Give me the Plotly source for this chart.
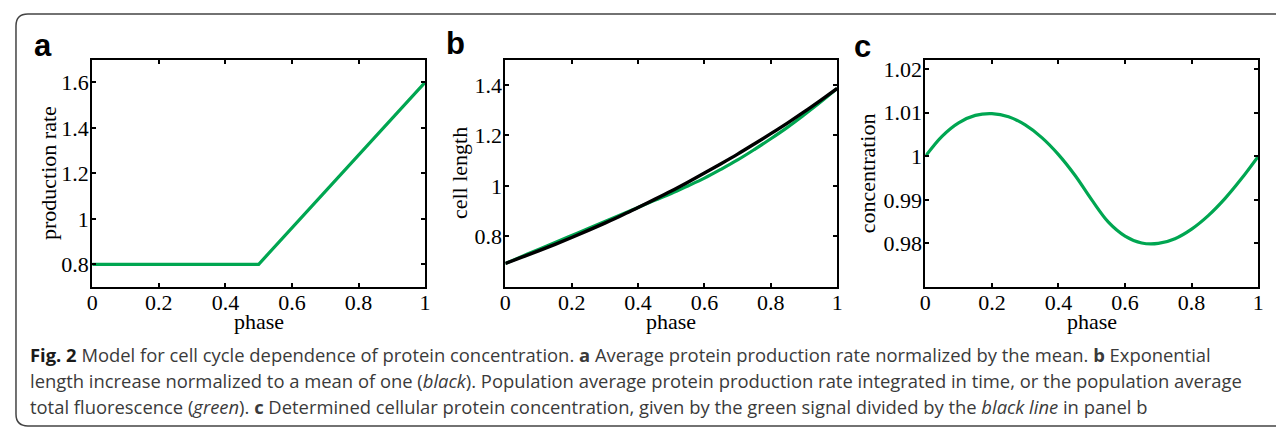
import plotly.graph_objects as go

# window is 1284x428; the page body keeps an 8px margin, so the figure is sized to fit
OFF = 8
W, H = 1284 - OFF, 428 - OFF

# ---- data ----
phase_a = [0.0, 0.5, 1.0]
production_rate = [0.8, 0.8, 1.6]

phase = [0.0, 0.05, 0.1, 0.15, 0.2, 0.25, 0.3, 0.35, 0.4, 0.45, 0.5,
         0.55, 0.6, 0.65, 0.7, 0.75, 0.8, 0.85, 0.9, 0.95, 1.0]
cell_length_black = [0.693, 0.718, 0.743, 0.769, 0.796, 0.824, 0.853, 0.883, 0.915, 0.947, 0.980,
                     1.015, 1.051, 1.088, 1.126, 1.166, 1.207, 1.249, 1.293, 1.339, 1.386]
fluorescence_green = [0.693, 0.721, 0.749, 0.776, 0.804, 0.832, 0.859, 0.887, 0.915, 0.943, 0.970,
                      1.000, 1.031, 1.066, 1.103, 1.144, 1.187, 1.232, 1.281, 1.332, 1.386]
concentration = [1.0000, 1.0046, 1.0077, 1.0094, 1.0098, 1.0091, 1.0072, 1.0043, 1.0004, 0.9956, 0.9900,
                 0.9849, 0.9817, 0.9801, 0.9800, 0.9811, 0.9833, 0.9864, 0.9903, 0.9949, 1.0000]

x_ticks = [0, 0.2, 0.4, 0.6, 0.8, 1]
y_ticks_a = [0.8, 1.0, 1.2, 1.4, 1.6]
y_ticks_b = [0.8, 1.0, 1.2, 1.4]
y_ticks_c = [0.98, 0.99, 1.00, 1.01, 1.02]

GREEN = "#00a651"

# ---- layout geometry (window pixels) ----
def px_x(v):
    return (v - OFF) / W

def px_y(v):
    return 1 - (v - OFF) / H

top, bottom = 57, 286
panels = [(87, 423), (504, 839), (928, 1264)]

fig = go.Figure()
fig.add_trace(go.Scatter(x=phase_a, y=production_rate, mode="lines",
                         line=dict(color=GREEN, width=3.2), xaxis="x", yaxis="y",
                         showlegend=False))
fig.add_trace(go.Scatter(x=phase, y=fluorescence_green, mode="lines",
                         line=dict(color=GREEN, width=3.2, shape="spline"), xaxis="x2", yaxis="y2",
                         showlegend=False))
fig.add_trace(go.Scatter(x=phase, y=cell_length_black, mode="lines",
                         line=dict(color="black", width=3.4, shape="spline"), xaxis="x2", yaxis="y2",
                         showlegend=False))
fig.add_trace(go.Scatter(x=phase, y=concentration, mode="lines",
                         line=dict(color=GREEN, width=3.2, shape="spline"), xaxis="x3", yaxis="y3",
                         showlegend=False))

tickfont = dict(family="Liberation Serif", size=22, color="black")
axis_common = dict(showline=True, linecolor="black", linewidth=2, mirror="ticks",
                   ticks="inside", ticklen=4, tickwidth=2, tickcolor="black",
                   showgrid=False, zeroline=False, tickfont=tickfont, fixedrange=True)

yranges = [[0.7, 1.7], [0.6, 1.5], [0.97, 1.0222]]
yticks = [y_ticks_a, y_ticks_b, y_ticks_c]
for i, (l, r) in enumerate(panels):
    sfx = "" if i == 0 else str(i + 1)
    fig.layout["xaxis" + sfx] = dict(domain=[px_x(l), px_x(r)], range=[0, 1],
                                     tickvals=x_ticks, anchor="y" + sfx,
                                     ticklabelstandoff=-5, **axis_common)
    fig.layout["yaxis" + sfx] = dict(domain=[px_y(bottom), px_y(top)], range=yranges[i],
                                     tickvals=yticks[i], anchor="x" + sfx,
                                     ticklabelstandoff=-3, **axis_common)

ann = []
serif = dict(family="Liberation Serif", size=22, color="black")
ytitles = [("production rate", 43), ("cell length", 458), ("concentration", 869)]
for (l, r), (txt, xc) in zip(panels, ytitles):
    ann.append(dict(text="phase", x=px_x((l + r) / 2), y=px_y(321), xref="paper", yref="paper",
                    xanchor="center", yanchor="middle", showarrow=False, font=serif))
    ann.append(dict(text=txt, x=px_x(xc), y=px_y((top + bottom) / 2), xref="paper", yref="paper",
                    xanchor="center", yanchor="middle", textangle=-90, showarrow=False, font=serif))

letter_font = dict(family="Liberation Sans", size=31, color="black")
for txt, xc, yc in [("a", 37, 43), ("b", 454, 41), ("c", 865, 44)]:
    ann.append(dict(text="<b>%s</b>" % txt, x=px_x(xc), y=px_y(yc), xref="paper", yref="paper",
                    xanchor="center", yanchor="middle", showarrow=False, font=letter_font))

cap_font = dict(family="Open Sans", size=18.4, color="#3a3a3a")
caption = [
    "<b style='color:#1a1a1a'>Fig. 2</b> Model for cell cycle dependence of protein concentration. <b>a</b> Average protein production rate normalized by the mean. <b>b</b> Exponential",
    "length increase normalized to a mean of one (<i>black</i>). Population average protein production rate integrated in time, or the population average",
    "total fluorescence (<i>green</i>). <b>c</b> Determined cellular protein concentration, given by the green signal divided by the <i>black line</i> in panel b",
]
for line, yc in zip(caption, [354, 380, 406]):
    ann.append(dict(text=line, x=px_x(22), y=px_y(yc), xref="paper", yref="paper",
                    xanchor="left", yanchor="middle", showarrow=False, font=cap_font))

# rounded frame around the figure (window pixel coordinates -> paper)
x0, y0, x1, y1, rad = 10, 11, 1300, 426, 12
path = (f"M {px_x(x0+rad):.6f},{px_y(y0):.6f} L {px_x(x1):.6f},{px_y(y0):.6f} "
        f"L {px_x(x1):.6f},{px_y(y1):.6f} L {px_x(x0+rad):.6f},{px_y(y1):.6f} "
        f"Q {px_x(x0):.6f},{px_y(y1):.6f} {px_x(x0):.6f},{px_y(y1-rad):.6f} "
        f"L {px_x(x0):.6f},{px_y(y0+rad):.6f} "
        f"Q {px_x(x0):.6f},{px_y(y0):.6f} {px_x(x0+rad):.6f},{px_y(y0):.6f} Z")
fig.add_shape(type="path", path=path, xref="paper", yref="paper",
              line=dict(color="#444444", width=1.5), fillcolor="rgba(0,0,0,0)", layer="below")

fig.update_layout(width=W, height=H, margin=dict(l=0, r=0, t=0, b=0),
                  paper_bgcolor="white", plot_bgcolor="white", annotations=ann,
                  showlegend=False)

fig.write_html("out.html", config={"displayModeBar": False})
